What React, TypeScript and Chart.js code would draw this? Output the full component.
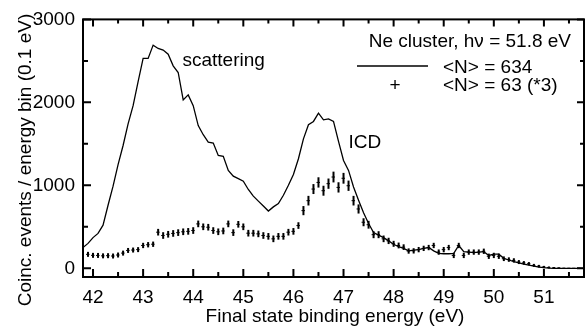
import React, { useEffect, useRef } from 'react';
import { Chart, registerables } from 'chart.js';

Chart.register(...registerables);

// Solid curve: <N> = 634, 0.1 eV bins
const lineEnergy = [
  41.8, 41.9, 42.0, 42.1, 42.2, 42.3, 42.4, 42.5, 42.6, 42.7, 42.8, 42.9,
  43.0, 43.1, 43.2, 43.3, 43.4, 43.5, 43.6, 43.7, 43.8, 43.9,
  44.0, 44.1, 44.2, 44.3, 44.4, 44.5, 44.6, 44.7, 44.8, 44.9,
  45.0, 45.1, 45.2, 45.3, 45.4, 45.5, 45.6, 45.7, 45.8, 45.9,
  46.0, 46.1, 46.2, 46.3, 46.4, 46.5, 46.6, 46.7, 46.8, 46.9,
  47.0, 47.1, 47.2, 47.3, 47.4, 47.5, 47.6, 47.7, 47.8, 47.9,
  48.0, 48.1, 48.2, 48.3, 48.4, 48.5, 48.6, 48.7, 48.8, 48.9,
  49.0, 49.1, 49.2, 49.3, 49.4, 49.5, 49.6, 49.7, 49.8, 49.9,
  50.0, 50.1, 50.2, 50.3, 50.4, 50.5, 50.6, 50.7, 50.8, 50.9,
  51.0, 51.1, 51.2, 51.3, 51.4, 51.5, 51.6, 51.7, 51.8,
];
const lineCounts = [
  250, 300, 370, 420, 520, 760, 990, 1250, 1480, 1740, 1960, 2250,
  2530, 2530, 2690, 2650, 2630, 2580, 2440, 2360, 2030, 2090,
  1960, 1720, 1610, 1520, 1510, 1360, 1350, 1180, 1110, 1080,
  1050, 950, 870, 810, 750, 690, 740, 780, 880, 1000,
  1130, 1320, 1560, 1730, 1770, 1870, 1790, 1800, 1770, 1530,
  1300, 1180, 980, 820, 670, 540, 430, 400, 370, 330,
  290, 260, 240, 210, 220, 225, 240, 250, 210, 180,
  175, 175, 180, 275, 200, 195, 190, 195, 200, 155,
  170, 170, 120, 100, 80, 65, 50, 38, 25, 15,
  8, 3, 0, 0, 0, 0, 0, 0, 0,
];

// Crosses: <N> = 63, multiplied by 3
const markerEnergy = [
  41.9, 42.0, 42.1, 42.2, 42.3, 42.4, 42.5, 42.6, 42.7, 42.8, 42.9,
  43.0, 43.1, 43.2, 43.3, 43.4, 43.5, 43.6, 43.7, 43.8, 43.9,
  44.0, 44.1, 44.2, 44.3, 44.4, 44.5, 44.6, 44.7, 44.8, 44.9,
  45.0, 45.1, 45.2, 45.3, 45.4, 45.5, 45.6, 45.7, 45.8, 45.9,
  46.0, 46.1, 46.2, 46.3, 46.4, 46.5, 46.6, 46.7, 46.8, 46.9,
  47.0, 47.1, 47.2, 47.3, 47.4, 47.5, 47.6, 47.7, 47.8, 47.9,
  48.0, 48.1, 48.2, 48.3, 48.4, 48.5, 48.6, 48.7, 48.8, 48.9,
  49.0, 49.1, 49.2, 49.3, 49.4, 49.5, 49.6, 49.7, 49.8, 49.9,
  50.0, 50.1, 50.2, 50.3, 50.4, 50.5, 50.6, 50.7, 50.8, 50.9,
  51.0, 51.1, 51.2, 51.3, 51.4, 51.5, 51.6, 51.7,
];
const markerCounts = [
  168, 156, 155, 150, 152, 148, 160, 183, 215, 220, 225,
  275, 284, 290, 435, 395, 410, 420, 430, 440, 445,
  455, 535, 500, 495, 455, 440, 450, 535, 430, 530,
  500, 423, 423, 415, 395, 385, 355, 385, 385, 435,
  445, 515, 695, 815, 955, 1035, 935, 1020, 1100, 975,
  1085, 995, 815, 715, 555, 525, 405, 405, 355, 330,
  295, 275, 255, 208, 210, 225, 240, 250, 275, 195,
  225, 250, 155, 275, 155, 195, 195, 195, 205, 145,
  155, 145, 115, 105, 95, 75, 65, 55, 35, 25,
  15, 10, 5, 3, 0, 0, 0, 0,
];
const markerErrors = [
  30, 30, 30, 30, 30, 30, 30, 30, 30, 30, 30,
  32, 32, 32, 40, 40, 40, 40, 40, 40, 40,
  40, 40, 40, 40, 40, 40, 40, 40, 40, 40,
  40, 40, 40, 40, 40, 40, 40, 40, 40, 40,
  40, 40, 55, 58, 60, 62, 60, 62, 65, 62,
  65, 62, 58, 55, 48, 47, 42, 42, 40, 38,
  36, 35, 34, 32, 32, 32, 32, 32, 32, 32,
  32, 32, 32, 32, 32, 32, 32, 32, 32, 32,
  32, 32, 28, 27, 26, 24, 22, 20, 18, 16,
  14, 12, 10, 8, 6, 5, 4, 4,
];

const xTicks = [42, 43, 44, 45, 46, 47, 48, 49, 50, 51];
const xMinor = [42.5, 43.5, 44.5, 45.5, 46.5, 47.5, 48.5, 49.5, 50.5, 51.5];
const yTicks = [0, 1000, 2000, 3000];
const yMinor = [500, 1500, 2500];

const FONT = '"Liberation Sans", Arial, Helvetica, sans-serif';

const framePlugin = {
  id: 'frame',
  afterDraw(chart: any) {
    const { ctx, chartArea: a, scales } = chart;
    const xs = scales.x;
    const ys = scales.y;
    ctx.save();
    ctx.strokeStyle = '#000';
    ctx.lineWidth = 2;
    ctx.strokeRect(a.left, a.top, a.right - a.left, a.bottom - a.top);
    ctx.beginPath();
    const tick = (v: number, len: number) => {
      const px = xs.getPixelForValue(v);
      ctx.moveTo(px, a.bottom);
      ctx.lineTo(px, a.bottom - len);
      ctx.moveTo(px, a.top);
      ctx.lineTo(px, a.top + len - 1);
    };
    xTicks.forEach((v) => tick(v, 8));
    xMinor.forEach((v) => tick(v, 5));
    const ytick = (v: number, len: number) => {
      const py = ys.getPixelForValue(v);
      ctx.moveTo(a.left, py);
      ctx.lineTo(a.left + len, py);
      ctx.moveTo(a.right, py);
      ctx.lineTo(a.right - len + 1, py);
    };
    yTicks.forEach((v) => ytick(v, 8));
    yMinor.forEach((v) => ytick(v, 5));
    ctx.stroke();
    ctx.restore();
  },
};

const errorBarPlugin = {
  id: 'errbars',
  afterDatasetsDraw(chart: any) {
    const { ctx, scales } = chart;
    const meta = chart.getDatasetMeta(1);
    ctx.save();
    ctx.strokeStyle = '#000';
    meta.data.forEach((pt: any, i: number) => {
      const v = markerCounts[i];
      const e = markerErrors[i];
      const x = pt.x;
      const yTop = scales.y.getPixelForValue(v + e);
      const yBot = scales.y.getPixelForValue(v - e);
      const yc = scales.y.getPixelForValue(v);
      ctx.lineWidth = 2;
      ctx.beginPath();
      ctx.moveTo(x, yTop);
      ctx.lineTo(x, yBot);
      ctx.stroke();
      ctx.lineWidth = 1;
      ctx.beginPath();
      ctx.moveTo(x - 2, yc);
      ctx.lineTo(x + 1.5, yc);
      ctx.stroke();
    });
    ctx.restore();
  },
};

const textPlugin = {
  id: 'texts',
  afterDraw(chart: any) {
    const { ctx } = chart;
    ctx.save();
    ctx.fillStyle = '#000';
    ctx.strokeStyle = '#000';
    ctx.font = `19px ${FONT}`;
    ctx.textBaseline = 'alphabetic';
    ctx.textAlign = 'left';
    ctx.fillText('scattering', 182.5, 66);
    ctx.fillText('ICD', 348.5, 148);
    ctx.textAlign = 'right';
    ctx.fillText('Ne cluster, h\u03bd = 51.8 eV', 571, 46.5);
    ctx.textAlign = 'left';
    ctx.fillText('<N> = 634', 443, 72.5);
    ctx.fillText('<N> = 63 (*3)', 443, 90.5);
    ctx.textAlign = 'center';
    ctx.fillText('+', 395, 91);
    ctx.lineWidth = 1.5;
    ctx.beginPath();
    ctx.moveTo(357, 66);
    ctx.lineTo(428, 66);
    ctx.stroke();
    // axis titles
    ctx.textAlign = 'center';
    ctx.fillText('Final state binding energy (eV)', 335, 322);
    ctx.save();
    ctx.translate(31, 160);
    ctx.rotate(-Math.PI / 2);
    ctx.fillText('Coinc. events / energy bin (0.1 eV)', 0, 0);
    ctx.restore();
    ctx.restore();
  },
};

export default function App() {
  const ref = useRef<HTMLCanvasElement | null>(null);
  useEffect(() => {
    document.body.style.margin = '0';
    const canvas = ref.current;
    if (!canvas) return;
    const chart = new Chart(canvas, {
      type: 'line',
      data: {
        datasets: [
          {
            label: '<N> = 634',
            data: lineEnergy.map((x, i) => ({ x, y: lineCounts[i] })),
            borderColor: '#000',
            borderWidth: 1.3,
            pointRadius: 0,
            fill: false,
            tension: 0,
          },
          {
            label: '<N> = 63 (*3)',
            data: markerEnergy.map((x, i) => ({ x, y: markerCounts[i] })),
            showLine: false,
            pointRadius: 0,
            borderColor: '#000',
          },
        ],
      },
      options: {
        animation: false,
        responsive: false,
        devicePixelRatio: 1,
        layout: { padding: { top: 16, right: 1, left: 0, bottom: 0 } },
        plugins: { legend: { display: false }, tooltip: { enabled: false } },
        scales: {
          x: {
            type: 'linear',
            min: 41.8,
            max: 51.8,
            grid: { display: false, drawTicks: false },
            border: { display: false },
            afterBuildTicks: (s: any) => {
              s.ticks = xTicks.map((value) => ({ value }));
            },
            afterFit: (s: any) => {
              s.height = 51;
            },
            ticks: {
              color: '#000',
              font: { size: 19, family: FONT },
              padding: 9,
              maxRotation: 0,
              autoSkip: false,
              callback: (v: any) => String(v),
            },
          },
          y: {
            type: 'linear',
            min: -105,
            max: 3000,
            grid: { display: false, drawTicks: false },
            border: { display: false },
            afterBuildTicks: (s: any) => {
              s.ticks = yTicks.map((value) => ({ value }));
            },
            afterFit: (s: any) => {
              s.width = 83;
            },
            ticks: {
              color: '#000',
              font: { size: 19, family: FONT },
              padding: 8,
              autoSkip: false,
              callback: (v: any) => String(v),
            },
          },
        },
      },
      plugins: [errorBarPlugin, framePlugin, textPlugin],
    });
    return () => chart.destroy();
  }, []);
  return (
    <div style={{ width: 585, height: 328 }}>
      <canvas ref={ref} width={585} height={328} style={{ display: 'block' }} />
    </div>
  );
}
